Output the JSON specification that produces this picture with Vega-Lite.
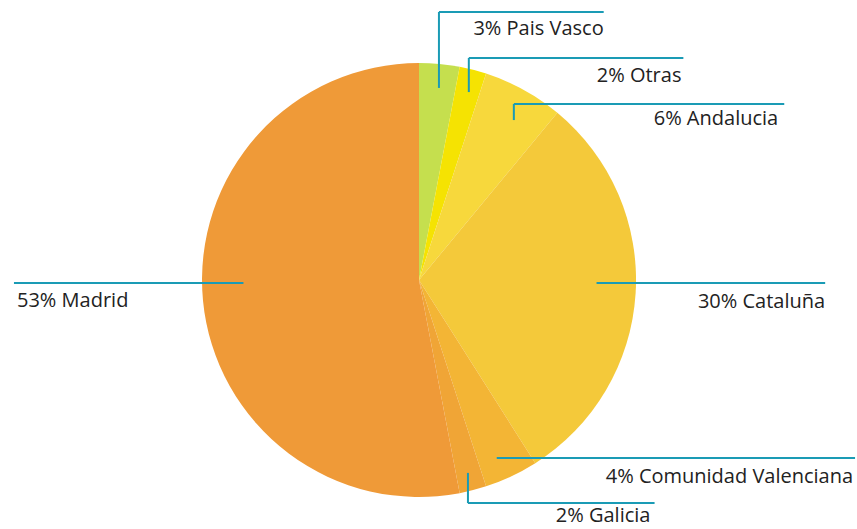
{
  "$schema": "https://vega.github.io/schema/vega-lite/v6.json",
  "width": 857,
  "height": 529,
  "padding": 0,
  "autosize": {"type": "fit", "contains": "padding"},
  "background": "white",
  "view": {"stroke": null},
  "config": {"text": {"font": "Open Sans"}},
  "datasets": {
    "slices": [
      {"region": "Pais Vasco", "value": 3, "order": 1},
      {"region": "Otras", "value": 2, "order": 2},
      {"region": "Andalucia", "value": 6, "order": 3},
      {"region": "Cataluña", "value": 30, "order": 4},
      {"region": "Comunidad Valenciana", "value": 4, "order": 5},
      {"region": "Galicia", "value": 2, "order": 6},
      {"region": "Madrid", "value": 53, "order": 7}
    ],
    "segments": [
      {"region": "Pais Vasco", "x": 0.092, "y": 0.885, "x2": 0.092, "y2": 1.235},
      {"region": "Pais Vasco", "x": 0.092, "y": 1.235, "x2": 0.853, "y2": 1.235},
      {"region": "Otras", "x": 0.230, "y": 0.866, "x2": 0.230, "y2": 1.023},
      {"region": "Otras", "x": 0.230, "y": 1.023, "x2": 1.221, "y2": 1.023},
      {"region": "Andalucia", "x": 0.438, "y": 0.737, "x2": 0.438, "y2": 0.811},
      {"region": "Andalucia", "x": 0.438, "y": 0.811, "x2": 1.687, "y2": 0.811},
      {"region": "Cataluña", "x": 0.820, "y": -0.014, "x2": 1.876, "y2": -0.014},
      {"region": "Madrid", "x": -1.871, "y": -0.014, "x2": -0.811, "y2": -0.014},
      {"region": "Comunidad Valenciana", "x": 0.359, "y": -0.820, "x2": 2.014, "y2": -0.820},
      {"region": "Galicia", "x": 0.226, "y": -0.889, "x2": 0.226, "y2": -1.028},
      {"region": "Galicia", "x": 0.226, "y": -1.028, "x2": 1.088, "y2": -1.028}
    ],
    "labels": [
      {"label": "3% Pais Vasco", "x": 0.853, "y": 1.129, "align": "right"},
      {"label": "2% Otras", "x": 1.212, "y": 0.912, "align": "right"},
      {"label": "6% Andalucia", "x": 1.659, "y": 0.714, "align": "right"},
      {"label": "30% Cataluña", "x": 1.876, "y": -0.129, "align": "right"},
      {"label": "4% Comunidad Valenciana", "x": 2.005, "y": -0.935, "align": "right"},
      {"label": "2% Galicia", "x": 1.069, "y": -1.116, "align": "right"},
      {"label": "53% Madrid", "x": -1.857, "y": -0.124, "align": "left"}
    ]
  },
  "layer": [
    {
      "data": {"name": "slices"},
      "mark": {"type": "arc", "outerRadius": 217},
      "encoding": {
        "x": {"datum": 0, "type": "quantitative", "scale": {"domain": [-1.9355, 2.0138], "nice": false, "zero": false}, "axis": null},
        "y": {"datum": 0, "type": "quantitative", "scale": {"domain": [-1.1475, 1.2903], "nice": false, "zero": false}, "axis": null},
        "theta": {"field": "value", "type": "quantitative", "stack": true},
        "order": {"field": "order", "type": "quantitative"},
        "color": {
          "field": "region",
          "type": "nominal",
          "legend": null,
          "scale": {
            "domain": ["Pais Vasco", "Otras", "Andalucia", "Cataluña", "Comunidad Valenciana", "Galicia", "Madrid"],
            "range": ["#c5df4e", "#f5e302", "#f7d83c", "#f4c93a", "#f3b535", "#f0a536", "#ef9a38"]
          }
        }
      }
    },
    {
      "data": {"name": "segments"},
      "mark": {"type": "rule", "color": "#1a9bb5", "strokeWidth": 2},
      "encoding": {
        "x": {"field": "x", "type": "quantitative"},
        "y": {"field": "y", "type": "quantitative"},
        "x2": {"field": "x2"},
        "y2": {"field": "y2"}
      }
    },
    {
      "data": {"name": "labels"},
      "transform": [{"filter": "datum.align == 'right'"}],
      "mark": {"type": "text", "align": "right", "baseline": "alphabetic", "fontSize": 20, "color": "#222222"},
      "encoding": {
        "x": {"field": "x", "type": "quantitative"},
        "y": {"field": "y", "type": "quantitative"},
        "text": {"field": "label"}
      }
    },
    {
      "data": {"name": "labels"},
      "transform": [{"filter": "datum.align == 'left'"}],
      "mark": {"type": "text", "align": "left", "baseline": "alphabetic", "fontSize": 20, "color": "#222222"},
      "encoding": {
        "x": {"field": "x", "type": "quantitative"},
        "y": {"field": "y", "type": "quantitative"},
        "text": {"field": "label"}
      }
    }
  ]
}
